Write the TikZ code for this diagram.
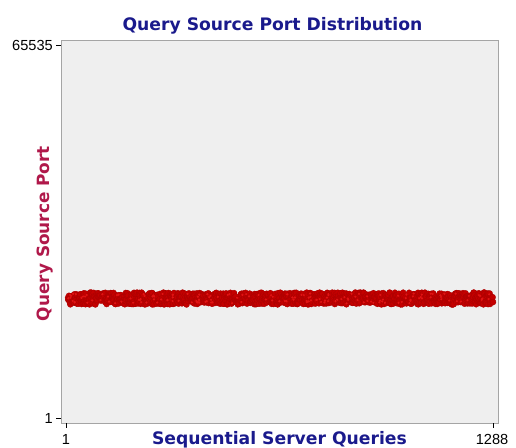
\documentclass[tikz,border=0pt]{standalone}
\usepackage{fontspec}
\setmainfont{DejaVu Sans}
\newfontfamily\ticksfont{Liberation Sans}
\definecolor{titleblue}{RGB}{26,26,140}
\definecolor{axisred}{RGB}{176,24,74}
\definecolor{plotbg}{RGB}{239,239,239}
\definecolor{frame}{RGB}{165,165,165}
\definecolor{dotfill}{RGB}{196,0,0}
\definecolor{dotedge}{RGB}{170,0,0}
\definecolor{dotlight}{RGB}{225,20,20}
\begin{document}
\begin{tikzpicture}[x=1pt,y=-1pt,
  charttitle/.style={font=\bfseries\fontsize{17.2}{20}\selectfont, text=titleblue, inner sep=0pt, anchor=base},
  xlabel/.style={font=\bfseries\fontsize{17.2}{20}\selectfont, text=titleblue, inner sep=0pt, anchor=base},
  ylabel/.style={font=\bfseries\fontsize{16.9}{20}\selectfont, text=axisred, inner sep=0pt, rotate=90, anchor=base},
  ticklabel/.style={font=\ticksfont\fontsize{14.6}{17}\selectfont, inner sep=0pt},
  tickmark/.style={draw=black, line width=0.9pt},
  dot/.style={fill=dotfill, draw=dotedge, line width=0.3pt}]
  \useasboundingbox (0,0) rectangle (516,447);
  % plot area
  \node[fill=plotbg, draw=frame, line width=1pt, minimum width=437pt, minimum height=383pt,
        inner sep=0pt, anchor=north west] (plot) at (61,40) {};
  % title and axis labels
  \node[charttitle] (title) at (272.5,30) {Query Source Port Distribution};
  \node[xlabel] (xlab) at (279.5,444.5) {Sequential Server Queries};
  \node[ylabel] (ylab) at (49,233.5) {Query Source Port};
  % y ticks
  \coordinate (ytop) at (61,45);
  \coordinate (ybot) at (61,418);
  \draw[tickmark] (ytop) -- ++(-5,0);
  \draw[tickmark] (ybot) -- ++(-5,0);
  \node[ticklabel, anchor=east] (ymax) at (53,45.5) {65535};
  \node[ticklabel, anchor=east] (ymin) at (53,418.5) {1};
  % x ticks
  \coordinate (xleft) at (66,423);
  \coordinate (xright) at (493,423);
  \draw[tickmark] (xleft) -- ++(0,5);
  \draw[tickmark] (xright) -- ++(0,5);
  \node[ticklabel] (xmin) at (66,439) {1};
  \node[ticklabel] (xmax) at (492,439) {1288};
  % scattered query ports
  \pgfmathsetseed{7}
  \foreach \i in {0,...,1287}{
    \pgfmathsetmacro{\px}{68+\i/1287*425}
    \pgfmathsetmacro{\py}{298.5+6*rand}
    \fill[dot] (\px,\py) circle (3pt);
  }
  \pgfmathsetseed{11}
  \foreach \i in {0,...,160}{
    \pgfmathsetmacro{\px}{68+425*rnd}
    \pgfmathsetmacro{\py}{298.5+5*rand}
    \fill[dotlight] (\px,\py) circle (1.2pt);
  }
\end{tikzpicture}
\end{document}
